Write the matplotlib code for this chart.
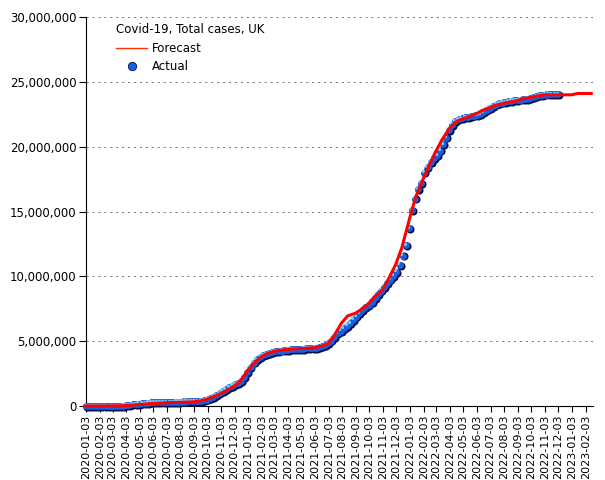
import matplotlib
matplotlib.use('Agg')
import matplotlib.pyplot as plt
import matplotlib.transforms as mtransforms
import matplotlib.ticker as mticker
from matplotlib.lines import Line2D
import pandas as pd

# weekly actual totals (millions), starting 2020-01-03
actual_start = '2020-01-03'
actual_cases = [
    # 2020
    0, 0, 0, 0, 0,
    0, 0, 0, 0,
    0, 0.01, 0.01, 0.02,
    0.05, 0.09, 0.12, 0.15,
    0.18, 0.21, 0.23, 0.25, 0.27,
    0.28, 0.29, 0.30, 0.31,
    0.31, 0.32, 0.32, 0.33, 0.33,
    0.34, 0.34, 0.35, 0.35,
    0.36, 0.38, 0.41, 0.45,
    0.50, 0.60, 0.72, 0.85, 1.0,
    1.15, 1.30, 1.45, 1.57,
    1.66, 1.78, 1.95, 2.2,
    # 2021
    2.6, 3.0, 3.35, 3.6, 3.8,
    3.92, 4.02, 4.10, 4.16,
    4.21, 4.25, 4.28, 4.31,
    4.34, 4.36, 4.38, 4.40, 4.41,
    4.42, 4.44, 4.45, 4.47,
    4.50, 4.55, 4.62, 4.70,
    4.85, 5.05, 5.35, 5.6, 5.8,
    6.0, 6.2, 6.4, 6.65,
    6.9, 7.15, 7.4, 7.6,
    7.8, 8.05, 8.3, 8.6, 8.9,
    9.2, 9.45, 9.75, 10.05,
    10.35, 10.9, 11.6, 12.4, 13.7,
    # 2022
    15.1, 16.0, 16.7, 17.2,
    18.0, 18.4, 18.8, 19.1,
    19.35, 19.7, 20.2, 20.7,
    21.3, 21.7, 21.95, 22.1, 22.2,
    22.25, 22.3, 22.35, 22.4,
    22.45, 22.5, 22.65, 22.85,
    23.0, 23.15, 23.25, 23.35, 23.4,
    23.45, 23.5, 23.55, 23.58,
    23.6, 23.63, 23.66, 23.7, 23.75,
    23.82, 23.9, 23.95, 24.0,
    24.02, 24.04, 24.05, 24.06,
    24.07,
]

# semi-monthly forecast (millions), 1st and 15th from 2020-01-01
forecast_start = '2020-01-01'
forecast_cases = [
    # 2020
    0, 0, 0, 0, 0, 0.01, 0.03, 0.07, 0.11, 0.15, 0.2, 0.22,
    0.25, 0.27, 0.28, 0.3, 0.32, 0.38, 0.5, 0.7, 0.95, 1.2, 1.5, 1.9,
    # 2021
    2.7, 3.3, 3.8, 4.05, 4.2, 4.3, 4.36, 4.4, 4.43, 4.45, 4.5, 4.6,
    4.8, 5.4, 6.4, 6.95, 7.15, 7.45, 7.9, 8.45, 8.95, 9.8, 10.9, 12.2,
    # 2022
    14.4, 16.1, 17.5, 18.6, 19.6, 20.5, 21.4, 21.9, 22.15, 22.3, 22.55, 22.8,
    23.0, 23.2, 23.35, 23.45, 23.55, 23.7, 23.8, 23.9, 24.0, 24.0, 24.0, 24.0,
    # 2023
    24.0, 24.1, 24.1, 24.1,
]

actual_dates = pd.date_range(actual_start, periods=len(actual_cases), freq='7D')
forecast_dates = pd.date_range(forecast_start, periods=len(forecast_cases), freq='SMS')
actual = [v * 1e6 for v in actual_cases]
forecast = [v * 1e6 for v in forecast_cases]

tick_dates = pd.date_range('2020-01-01', '2023-02-01', freq='MS') + pd.Timedelta(days=2)

plt.rcParams['font.family'] = ['DejaVu Sans']
fig = plt.figure(figsize=(6.05, 4.8), dpi=100)
ax = fig.add_axes([86/605, 1 - 406/480, (593 - 86)/605, (406 - 17)/480])

# shaded "sphere" markers: shadow, body, highlight
shadow = mtransforms.offset_copy(ax.transData, fig=fig, x=0.9, y=-0.9, units='dots')
light = mtransforms.offset_copy(ax.transData, fig=fig, x=-1.3, y=1.3, units='dots')
ax.scatter(actual_dates, actual, s=34, color='#00104a', lw=0, transform=shadow, clip_on=False, zorder=3)
ax.scatter(actual_dates, actual, s=24, color='#1c5ee0', lw=0, clip_on=False, zorder=4)
ax.scatter(actual_dates, actual, s=5, color='#74d0ff', lw=0, transform=light, clip_on=False, zorder=5)

ax.plot(forecast_dates, forecast, color='#ff0000', lw=2.2, zorder=6, clip_on=False)

ax.set_xlim(pd.Timestamp('2020-01-03'), pd.Timestamp('2023-02-19'))
ax.set_ylim(0, 30e6)
ax.set_xticks(tick_dates)
ax.set_xticklabels([d.strftime('%Y-%m-%d') for d in tick_dates], rotation=90, fontsize=8)
ax.set_yticks(range(0, 30000001, 5000000))
ax.yaxis.set_major_formatter(mticker.FuncFormatter(lambda v, p: f'{int(v):,}'))
ax.tick_params(axis='y', labelsize=8.5, length=5, pad=2)
ax.tick_params(axis='x', length=4, pad=2)

for y in range(5000000, 30000001, 5000000):
    ax.axhline(y, color='#808080', lw=0.75, ls=(0, (2, 3.7)), zorder=1)

ax.spines['top'].set_visible(False)
ax.spines['right'].set_visible(False)

handles = [
    Line2D([], [], color='#ff3300', lw=1),
    Line2D([], [], ls='none', marker='o', markersize=6, markerfacecolor='#1c5ee0', markeredgecolor='#00104a', markeredgewidth=0.6),
]
leg = ax.legend(handles, ['Forecast', 'Actual'], title='Covid-19, Total cases, UK',
                loc='upper left', bbox_to_anchor=(0.039, 1.011), frameon=False,
                fontsize=8.5, title_fontsize=8.5, handlelength=2.6, handletextpad=0.4,
                labelspacing=0.45)
leg._legend_box.align = 'left'

fig.savefig('out.png', dpi=100)
